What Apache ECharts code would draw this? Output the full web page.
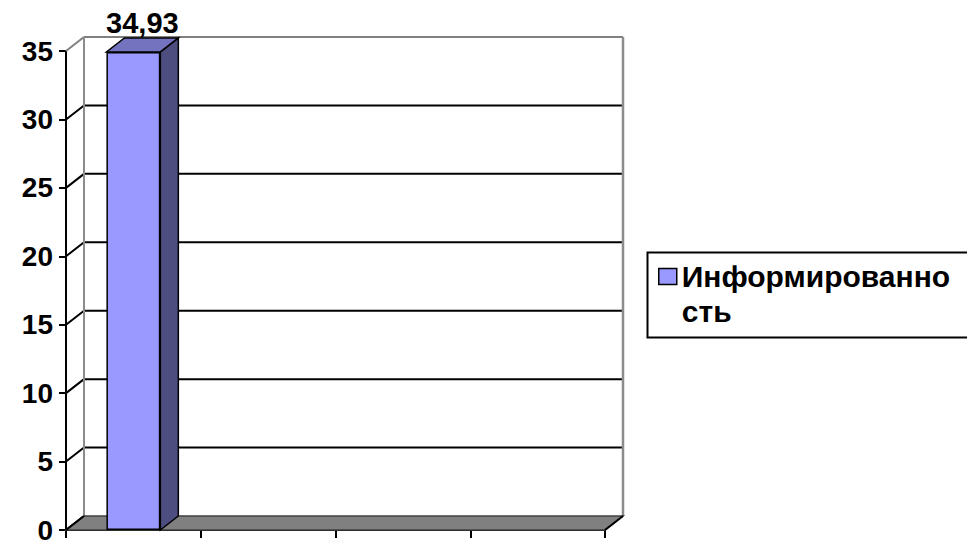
<!DOCTYPE html>
<html><head><meta charset="utf-8">
<script src="https://cdn.jsdelivr.net/npm/echarts@6/dist/echarts.min.js"></script>
<style>html,body{margin:0;padding:0;background:#fff}#c{width:967px;height:546px}</style>
</head><body><div id="c"></div>
<script>
// ---- data ----
const categories = ['', '', '', ''];
const seriesName = 'Информированность';
const legendLines = ['Информированно', 'сть'];
const values = [34.93, null, null, null];
const yTicks = [0, 5, 10, 15, 20, 25, 30, 35];

// ---- style constants ----
const DX = 18, DY = -14;
const FONT = 'Liberation Sans, Arial, sans-serif';

const chart = echarts.init(document.getElementById('c'), null, { renderer: 'svg' });

function wallsItem(params, api) {
  const cs = params.coordSys;
  const v = api.value(1);
  const y = api.coord([0, v])[1];
  const x0 = cs.x, x1 = cs.x + cs.width;
  const isTop = v === yTicks[yTicks.length - 1];
  const color = isTop ? '#808080' : '#000';
  const children = [{ type: 'line', shape: { x1: x0, y1: y, x2: x0 + DX, y2: y + DY }, style: { stroke: color, lineWidth: 2 } }];
  if (v !== yTicks[0]) {
    children.push({ type: 'line', shape: { x1: x0 + DX, y1: y + DY, x2: x1 + DX, y2: y + DY }, style: { stroke: color, lineWidth: 2 } });
  }
  return { type: 'group', children };
}

function frameItem(params, api) {
  const cs = params.coordSys;
  const yb = api.coord([0, api.value(1)])[1];
  const yt = api.coord([0, api.value(2)])[1];
  const x0 = cs.x, x1 = cs.x + cs.width;
  return {
    type: 'group', children: [
      { type: 'line', shape: { x1: x0 + DX, y1: yt + DY, x2: x0 + DX, y2: yb + DY }, style: { stroke: '#8c8c8c', lineWidth: 2 } },
      { type: 'line', shape: { x1: x1 + DX, y1: yt + DY, x2: x1 + DX, y2: yb + DY }, style: { stroke: '#8c8c8c', lineWidth: 2.5 } },
      { type: 'polygon', shape: { points: [[x0, yb], [x1, yb], [x1 + DX, yb + DY], [x0 + DX, yb + DY]] }, style: { fill: '#808080', stroke: '#404040', lineWidth: 1.5 } },
      { type: 'line', shape: { x1: x1, y1: yb, x2: x1 + DX, y2: yb + DY }, style: { stroke: '#000', lineWidth: 2 } },
      { type: 'line', shape: { x1: x0, y1: yb, x2: x0 + DX, y2: yb + DY }, style: { stroke: '#000', lineWidth: 2 } }
    ]
  };
}

function bar3dItem(params, api) {
  const c = api.coord([api.value(0), api.value(1)]);
  const base = api.coord([api.value(0), 0]);
  const bw = api.size([1, 0])[0] * 0.4;
  const xl = c[0] - bw / 2, xr = c[0] + bw / 2, yt = c[1], yb = base[1];
  return {
    type: 'group', children: [
      { type: 'polygon', shape: { points: [[xr, yt], [xr + DX, yt + DY], [xr + DX, yb + DY], [xr, yb]] }, style: { fill: '#4D4D80', stroke: '#000', lineWidth: 1.5 } },
      { type: 'polygon', shape: { points: [[xl, yt], [xr, yt], [xr + DX, yt + DY], [xl + DX, yt + DY]] }, style: { fill: '#7373BF', stroke: '#000', lineWidth: 1.5 } }
    ]
  };
}

const option = {
  animation: false,
  grid: { left: 66, top: 51, width: 539, height: 479, outerBoundsMode: 'none' },
  xAxis: {
    type: 'category', data: categories, boundaryGap: true,
    axisLine: { lineStyle: { color: '#000', width: 2 } },
    axisTick: { show: true, length: 8, lineStyle: { color: '#000', width: 2 } },
    axisLabel: { show: false },
    splitLine: { show: false }
  },
  yAxis: {
    type: 'value', min: 0, max: 35, interval: 5,
    axisLine: { show: true, lineStyle: { color: '#000', width: 2 } },
    axisTick: { show: true, length: 7, lineStyle: { color: '#000', width: 2 } },
    axisLabel: { margin: 13, fontFamily: FONT, fontSize: 28, fontWeight: 'bold', color: '#000', lineHeight: 22 },
    splitLine: { show: false }
  },
  legend: {
    left: 658, top: 224, padding: 0, itemWidth: 18, itemHeight: 16, icon: 'rect',
    data: [seriesName],
    formatter: function () { return ' \n' + legendLines.join('\n'); },
    itemStyle: { borderColor: '#000', borderWidth: 1.5 },
    textStyle: { fontFamily: FONT, fontSize: 30, fontWeight: 'bold', color: '#000', lineHeight: 35 }
  },
  graphic: [
    { type: 'rect', left: 645, top: 250, shape: { width: 340, height: 85 }, style: { fill: 'none', stroke: '#000', lineWidth: 2 }, z: 0 }
  ],
  series: [
    {
      type: 'custom', name: 'walls', z: 1, silent: true,
      renderItem: wallsItem,
      data: yTicks.map(v => [0, v])
    },
    {
      type: 'custom', name: 'frame', z: 2, silent: true,
      renderItem: frameItem,
      data: [[0, yTicks[0], yTicks[yTicks.length - 1]]]
    },
    {
      type: 'custom', name: 'bar3d', z: 3, silent: true,
      renderItem: bar3dItem,
      data: values.map((v, i) => [i, v]).filter(d => d[1] != null)
    },
    {
      type: 'bar', name: seriesName, z: 4, barWidth: '40%',
      data: values,
      itemStyle: { color: '#9999FF', borderColor: '#000', borderWidth: 1.5 },
      label: {
        show: true, position: 'top', distance: 0, offset: [DX / 2, DY],
        fontFamily: FONT, fontSize: 29, fontWeight: 'bold', color: '#000',
        formatter: p => String(p.value).replace('.', ',')
      }
    }
  ]
};
chart.setOption(option);
</script></body></html>
